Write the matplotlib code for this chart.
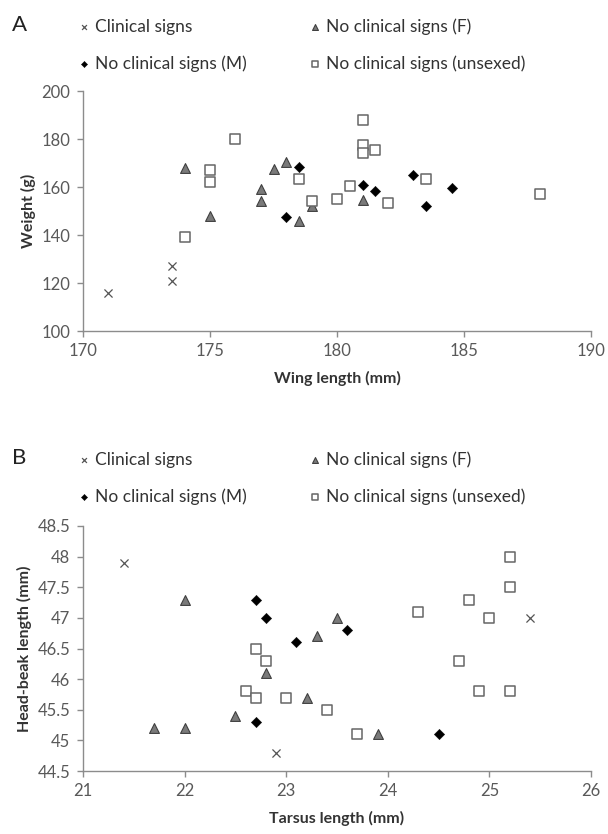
import matplotlib
matplotlib.use("Agg")
import matplotlib.pyplot as plt

plt.rcParams['font.family'] = ['Lato', 'DejaVu Sans']

# Panel A: wing length (mm) vs weight (g)
wingClinical = [171.0, 173.5, 173.5]
weightClinical = [116, 127, 121]
wingF = [174.0, 175.0, 177.0, 177.0, 177.5, 178.0, 178.5, 179.0, 181.0]
weightF = [168, 148, 159, 154, 167.5, 170.5, 146, 152, 154.5]
wingM = [178.0, 178.5, 181.0, 181.5, 183.0, 183.5, 184.5]
weightM = [147.5, 168.5, 161, 158.5, 165, 152, 159.5]
wingU = [174.0, 175.0, 175.0, 176.0, 178.5, 179.0, 180.0, 180.5, 181.0, 181.0, 181.0,
         181.5, 182.0, 183.5, 188.0]
weightU = [139, 167, 162, 180, 163.5, 154, 155, 160.5, 188, 177.5, 174, 175.5, 153.5,
           163.5, 157]

# Panel B: tarsus length (mm) vs head-beak length (mm)
tarsusClinical = [21.4, 25.4, 22.9]
headClinical = [47.9, 47.0, 44.8]
tarsusF = [22.0, 23.5, 23.3, 22.8, 21.7, 22.0, 22.5, 23.2, 23.9]
headF = [47.3, 47.0, 46.7, 46.1, 45.2, 45.2, 45.4, 45.7, 45.1]
tarsusM = [22.7, 22.8, 23.1, 23.6, 22.7, 24.5]
headM = [47.3, 47.0, 46.6, 46.8, 45.3, 45.1]
tarsusU = [22.7, 22.8, 24.3, 24.8, 25.2, 25.2, 25.0, 24.7, 22.6, 22.7, 23.0, 23.4, 23.7,
           24.9, 25.2]
headU = [46.5, 46.3, 47.1, 47.3, 48.0, 47.5, 47.0, 46.3, 45.8, 45.7, 45.7, 45.5, 45.1,
         45.8, 45.8]

labels = ["Clinical signs", "No clinical signs (F)", "No clinical signs (M)",
          "No clinical signs (unsexed)"]

tickColor = "#595959"
spineColor = "#8c8c8c"


def drawPanel(ax, data, xlim, ylim, xticks, yticks, xlabel, ylabel, letter, legendY):
    (xc, yc), (xf, yf), (xm, ym), (xu, yu) = data
    hC = ax.scatter(xc, yc, marker='x', s=34, c="#555555", linewidths=0.9, zorder=3)
    hF = ax.scatter(xf, yf, marker='^', s=50, c="#7a7a7a", edgecolors="#404040",
                    linewidths=0.8, zorder=3)
    hM = ax.scatter(xm, ym, marker='D', s=28, c="black", edgecolors="black",
                    linewidths=0.3, zorder=3)
    hU = ax.scatter(xu, yu, marker='s', s=50, facecolors="white", edgecolors="#666666",
                    linewidths=1.1, zorder=3)

    ax.set_xlim(xlim)
    ax.set_ylim(ylim)
    ax.set_xticks(xticks)
    ax.set_yticks(yticks)
    ax.set_xticklabels([format(v, 'g') for v in xticks])
    ax.set_yticklabels([format(v, 'g') for v in yticks])
    for side in ['top', 'right']:
        ax.spines[side].set_visible(False)
    for side in ['left', 'bottom']:
        ax.spines[side].set_color(spineColor)
        ax.spines[side].set_linewidth(1.0)
    ax.tick_params(direction='out', length=4, width=1.0, color=spineColor,
                   labelcolor=tickColor, labelsize=12, pad=5)
    ax.set_xlabel(xlabel, fontsize=11.5, fontweight='bold', color="#333333", labelpad=8)
    ax.set_ylabel(ylabel, fontsize=11.5, fontweight='bold', color="#333333", labelpad=4)

    fig.text(19 / 608, 1 - legendY / 834, letter, fontsize=16, color="#222222",
             ha='center', va='center')
    # ncol=2 fills column-wise, so the order is C, M, F, U
    leg = fig.legend([hC, hM, hF, hU], [labels[0], labels[2], labels[1], labels[3]],
                     ncol=2, frameon=False, loc='upper left',
                     bbox_to_anchor=(79 / 608, 1 - (legendY - 7) / 834),
                     fontsize=12.5, markerscale=0.6, handlelength=0.6,
                     handletextpad=0.35, columnspacing=3.6, labelspacing=1.2,
                     borderaxespad=0, borderpad=0)
    for t in leg.get_texts():
        t.set_color("#333333")


fig = plt.figure(figsize=(6.08, 8.34), dpi=100)
axA = fig.add_axes([83 / 608, 1 - 331 / 834, (591.3 - 83) / 608, 240 / 834])
axB = fig.add_axes([83 / 608, 1 - 771 / 834, (591 - 83) / 608, 245 / 834])

drawPanel(axA,
          [(wingClinical, weightClinical), (wingF, weightF), (wingM, weightM), (wingU, weightU)],
          (170, 190), (100, 200), [170, 175, 180, 185, 190], [100, 120, 140, 160, 180, 200],
          "Wing length (mm)", "Weight (g)", "A", 25)
drawPanel(axB,
          [(tarsusClinical, headClinical), (tarsusF, headF), (tarsusM, headM), (tarsusU, headU)],
          (21, 26), (44.5, 48.5), [21, 22, 23, 24, 25, 26],
          [44.5, 45, 45.5, 46, 46.5, 47, 47.5, 48, 48.5],
          "Tarsus length (mm)", "Head-beak length (mm)", "B", 458)

fig.savefig("out.png", dpi=100)
